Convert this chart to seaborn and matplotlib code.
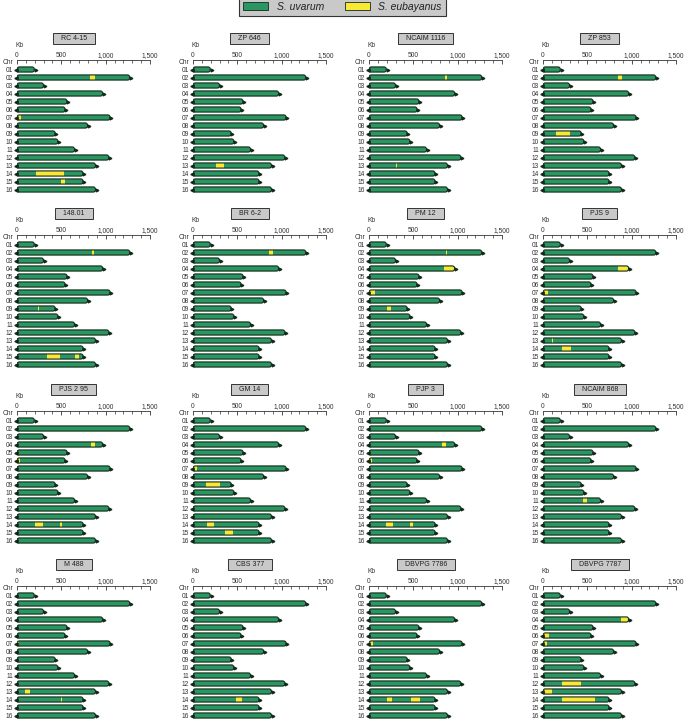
import matplotlib
matplotlib.use("Agg")
import matplotlib.pyplot as plt
from matplotlib.patches import FancyBboxPatch, Patch
import numpy as np
import pandas as pd
import seaborn as sns

sns.set_style("white")
plt.rcParams["font.family"] = ["Liberation Sans", "DejaVu Sans"]

green = "#2a9762"
yellow = "#fae934"
edge = "#122a1a"
box_gray = "#c9c9c9"

strains = ["RC 4-15", "ZP 646", "NCAIM 1116", "ZP 853",
           "148.01", "BR 6-2", "PM 12", "PJS 9",
           "PJS 2 95", "GM 14", "PJP 3", "NCAIM 868",
           "M 488", "CBS 377", "DBVPG 7786", "DBVPG 7787"]
chroms = ["01", "02", "03", "04", "05", "06", "07", "08",
          "09", "10", "11", "12", "13", "14", "15", "16"]
chrom_len = [195, 1272, 299, 966, 564, 542, 1050, 796,
             431, 461, 649, 1036, 885, 745, 745, 885]  # kb

# S. eubayanus segments: strain, chromosome, start (kb), end (kb)
seg_strain = ["RC 4-15"] * 4 + ["ZP 646"] + ["NCAIM 1116"] * 2 + ["ZP 853"] * 2 \
    + ["148.01"] * 5 + ["BR 6-2"] + ["PM 12"] * 4 + ["PJS 9"] * 4 \
    + ["PJS 2 95"] * 4 + ["GM 14"] * 4 + ["PJP 3"] * 4 + ["NCAIM 868"] \
    + ["M 488"] * 3 + ["CBS 377"] + ["DBVPG 7786"] * 3 + ["DBVPG 7787"] * 6
seg_chr = ["02", "07", "14", "15", "13", "02", "13", "02", "09",
           "02", "09", "11", "15", "15", "02", "02", "04", "07", "09",
           "04", "07", "13", "14", "04", "06", "14", "14",
           "07", "09", "14", "15", "04", "06", "14", "14", "11",
           "07", "13", "14", "14", "07", "14", "14",
           "04", "06", "07", "12", "13", "14"]
seg_start = [826, 0, 210, 501, 264, 853, 305, 843, 144,
             848, 238, 0, 342, 659, 861, 864, 849, 0, 206,
             851, 0, 103, 215, 834, 0, 205, 484,
             0, 151, 162, 359, 825, 0, 188, 467, 448,
             0, 86, 499, 485, 0, 200, 479,
             878, 0, 0, 218, 0, 210]
seg_end = [885, 44, 527, 542, 347, 883, 314, 889, 304,
           870, 250, 15, 480, 696, 899, 883, 966, 68, 251,
           966, 57, 113, 315, 875, 37, 294, 510,
           45, 302, 238, 446, 871, 38, 275, 501, 494,
           22, 143, 508, 556, 45, 256, 580,
           966, 73, 50, 431, 99, 592]

segments = pd.DataFrame({"strain": seg_strain, "chr": seg_chr,
                         "start": seg_start, "end": seg_end})

W, H = 685, 721
fig = plt.figure(figsize=(W / 100, H / 100), dpi=100)

col_x = [17, 193, 369, 543]
row_y = [60, 235, 411, 586]
ax_w, ax_h = 133, 136
bar_h = 0.64
# kb per px vs rows per px, so the rounded ends look round
asp = (17 / ax_h) / (1500 / ax_w)
rstyle = "round,pad=0,rounding_size=26"

for k, strain in enumerate(strains):
    r, c = divmod(k, 4)
    ax = fig.add_axes([col_x[c] / W, 1 - (row_y[r] + ax_h) / H, ax_w / W, ax_h / H])
    sns.barplot(x=chrom_len, y=chroms, orient="h", color=green, saturation=1,
                width=bar_h, errorbar=None, ax=ax)

    # swap the plain rectangles for rounded chromosome bodies
    bodies = []
    for p in list(ax.patches):
        x, y, w, h = p.get_x(), p.get_y(), p.get_width(), p.get_height()
        p.remove()
        body = FancyBboxPatch((x, y), w, h, boxstyle=rstyle,
                              mutation_aspect=asp, fc=green, ec="none", zorder=2)
        ax.add_patch(body)
        bodies.append((body, (x, y, w, h)))

    sub = segments[segments["strain"] == strain]
    for _, s in sub.iterrows():
        i = chroms.index(s["chr"])
        bars = ax.barh(i, s["end"] - s["start"], left=s["start"], height=bar_h,
                       color=yellow, lw=0, zorder=3)
        for b in bars:
            b.set_clip_path(bodies[i][0])

    for body, (x, y, w, h) in bodies:
        ax.add_patch(FancyBboxPatch((x, y), w, h, boxstyle=rstyle,
                                    mutation_aspect=asp, fc="none", ec=edge, lw=0.8, zorder=4))

    idx = np.arange(len(chroms))
    ax.plot(np.full(len(chroms), -14), idx, ls="none", marker="<", ms=2.4,
            color=edge, clip_on=False, zorder=5)
    ax.plot(np.array(chrom_len) + 14, idx, ls="none", marker=">", ms=2.0,
            color=edge, clip_on=False, zorder=5)

    ax.set_xlim(0, 1500)
    ax.set_ylim(15.8125, -1.1875)
    ax.xaxis.tick_top()
    ax.set_xticks([0, 500, 1000, 1500], ["0", "500", "1,000", "1,500"])
    ax.set_xticks(np.arange(0, 1501, 100), minor=True)
    ax.tick_params(axis="x", which="major", direction="in", top=True, bottom=False,
                   length=3, width=0.6, pad=1, labelsize=4.8, colors="#333333")
    ax.tick_params(axis="x", which="minor", direction="in", top=True, bottom=False,
                   length=2, width=0.5, colors="#333333")
    ax.tick_params(axis="y", length=0, pad=3, labelsize=4.8, labelcolor="#333333")
    for sp in ["right", "bottom", "left"]:
        ax.spines[sp].set_visible(False)
    ax.spines["top"].set_linewidth(0.6)
    ax.spines["top"].set_color("#333333")
    ax.set_xlabel("")
    ax.set_ylabel("")

    ax.text(-0.015, 1.103, "Kb", transform=ax.transAxes, fontsize=4.8,
            color="#333333", ha="left", va="center")
    ax.text(-0.03, 0.985, "Chr", transform=ax.transAxes, fontsize=4.8,
            color="#333333", ha="right", va="center")
    ax.text(0.427, 1.158, "   " + strain + "   ", transform=ax.transAxes, fontsize=5,
            color="#222222", ha="center", va="center",
            bbox=dict(boxstyle="square,pad=0.3", fc=box_gray, ec="#333333", lw=0.7))

handles = [Patch(fc=green, ec=edge, lw=0.6), Patch(fc=yellow, ec=edge, lw=0.6)]
leg = fig.legend(handles, ["S. uvarum", "S. eubayanus"], loc="upper center",
                 bbox_to_anchor=(0.5, 1.004), ncol=2, fontsize=7.5, frameon=True,
                 fancybox=False, handlelength=2.4, handleheight=0.8,
                 columnspacing=2.0, borderpad=0.45, borderaxespad=0)
for t in leg.get_texts():
    t.set_fontstyle("italic")
    t.set_color("#222222")
frame = leg.get_frame()
frame.set_facecolor(box_gray)
frame.set_edgecolor("#333333")
frame.set_alpha(1)
frame.set_linewidth(0.8)

fig.savefig("out.png", dpi=100)
